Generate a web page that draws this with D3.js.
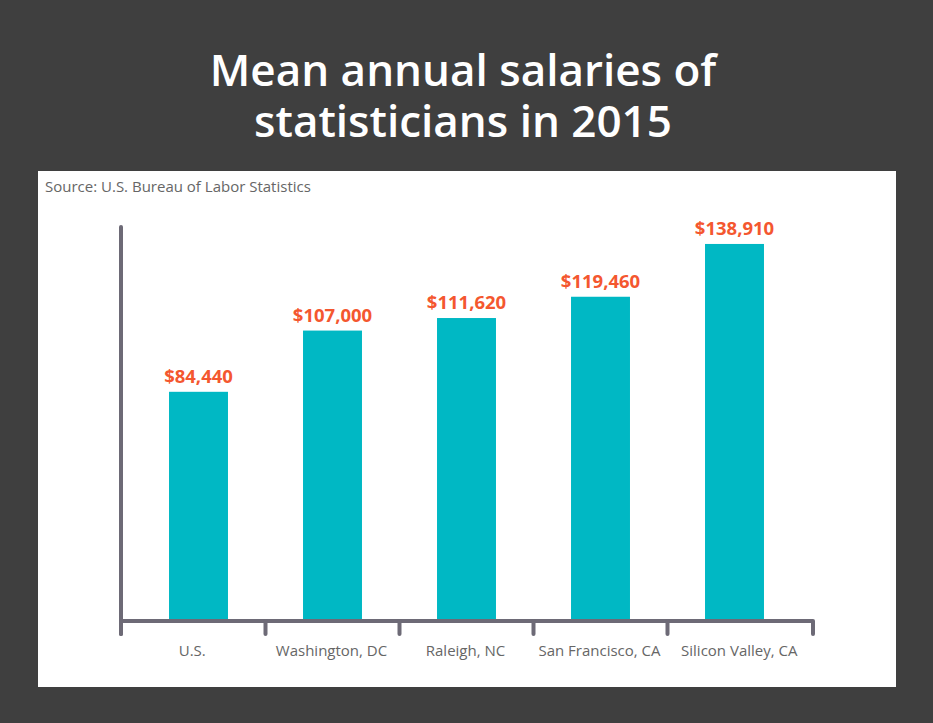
<!DOCTYPE html>
<html><head><meta charset="utf-8">
<script src="https://cdn.jsdelivr.net/npm/d3@7"></script>
<style>html,body{margin:0;padding:0;background:#3f3f3f;}svg{display:block;}</style>
</head><body>
<script>
const titleLines = ["Mean annual salaries of", "statisticians in 2015"];
const source = "Source: U.S. Bureau of Labor Statistics";
const categories = ["U.S.", "Washington, DC", "Raleigh, NC", "San Francisco, CA", "Silicon Valley, CA"];
const values = [84440, 107000, 111620, 119460, 138910];

const W = 933, H = 723;
const svg = d3.select("body").append("svg").attr("width", W).attr("height", H);
svg.append("rect").attr("width", W).attr("height", H).attr("fill", "#3f3f3f");

svg.append("g").selectAll("text").data(titleLines).join("text")
  .attr("x", 463).attr("y", (d, i) => 86 + i * 51).attr("text-anchor", "middle")
  .attr("font-family", "'Open Sans', sans-serif").attr("font-size", 44).attr("font-weight", 600).attr("fill", "#fff")
  .text(d => d);

svg.append("rect").attr("x", 38).attr("y", 171).attr("width", 858).attr("height", 516).attr("fill", "#fff");
svg.append("text").attr("x", 45).attr("y", 192).attr("font-family", "'Open Sans', sans-serif")
  .attr("font-size", 15).attr("fill", "#666").text(source);

const x = d3.scaleBand().domain(categories).range([131.5, 801.5]).paddingInner(0.56).paddingOuter(0.28);
const y = d3.scaleLinear().domain([0, 140000]).range([621, 241]);

const axisColor = "#6d6a76";
// bars
svg.append("g").selectAll("rect").data(values).join("rect")
  .attr("x", (d, i) => x(categories[i])).attr("width", x.bandwidth())
  .attr("y", d => y(d)).attr("height", d => y(0) - y(d)).attr("fill", "#00b8c4");

// value labels
svg.append("g").selectAll("text").data(values).join("text")
  .attr("x", (d, i) => x(categories[i]) + x.bandwidth() / 2).attr("y", d => y(d) - 9)
  .attr("text-anchor", "middle").attr("font-family", "'Open Sans', sans-serif")
  .attr("font-weight", "bold").attr("font-size", 18.5).attr("fill", "#f4572f")
  .text(d => "$" + d3.format(",")(d));

// axes
const x0 = 121, x1 = 813, yAxisTop = 227, yBase = 621;
svg.append("line").attr("x1", x0).attr("x2", x0).attr("y1", yAxisTop).attr("y2", 634)
  .attr("stroke", axisColor).attr("stroke-width", 4).attr("stroke-linecap", "round");
svg.append("line").attr("x1", x0).attr("x2", x1).attr("y1", yBase).attr("y2", yBase)
  .attr("stroke", axisColor).attr("stroke-width", 4);
const centers = categories.map(c => x(c) + x.bandwidth() / 2);
const bounds = [x0];
for (let i = 0; i < centers.length - 1; i++) bounds.push((centers[i] + centers[i + 1]) / 2);
bounds.push(x1);
svg.append("g").selectAll("line").data(bounds).join("line")
  .attr("x1", d => d).attr("x2", d => d).attr("y1", yBase).attr("y2", 634)
  .attr("stroke", axisColor).attr("stroke-width", 4).attr("stroke-linecap", "round");

// category labels
svg.append("g").selectAll("text").data(categories).join("text")
  .attr("x", (d, i) => (bounds[i] + bounds[i + 1]) / 2 - 1).attr("y", 656)
  .attr("text-anchor", "middle").attr("font-family", "'Open Sans', sans-serif")
  .attr("font-size", 15).attr("fill", "#666").text(d => d);
</script>
</body></html>
